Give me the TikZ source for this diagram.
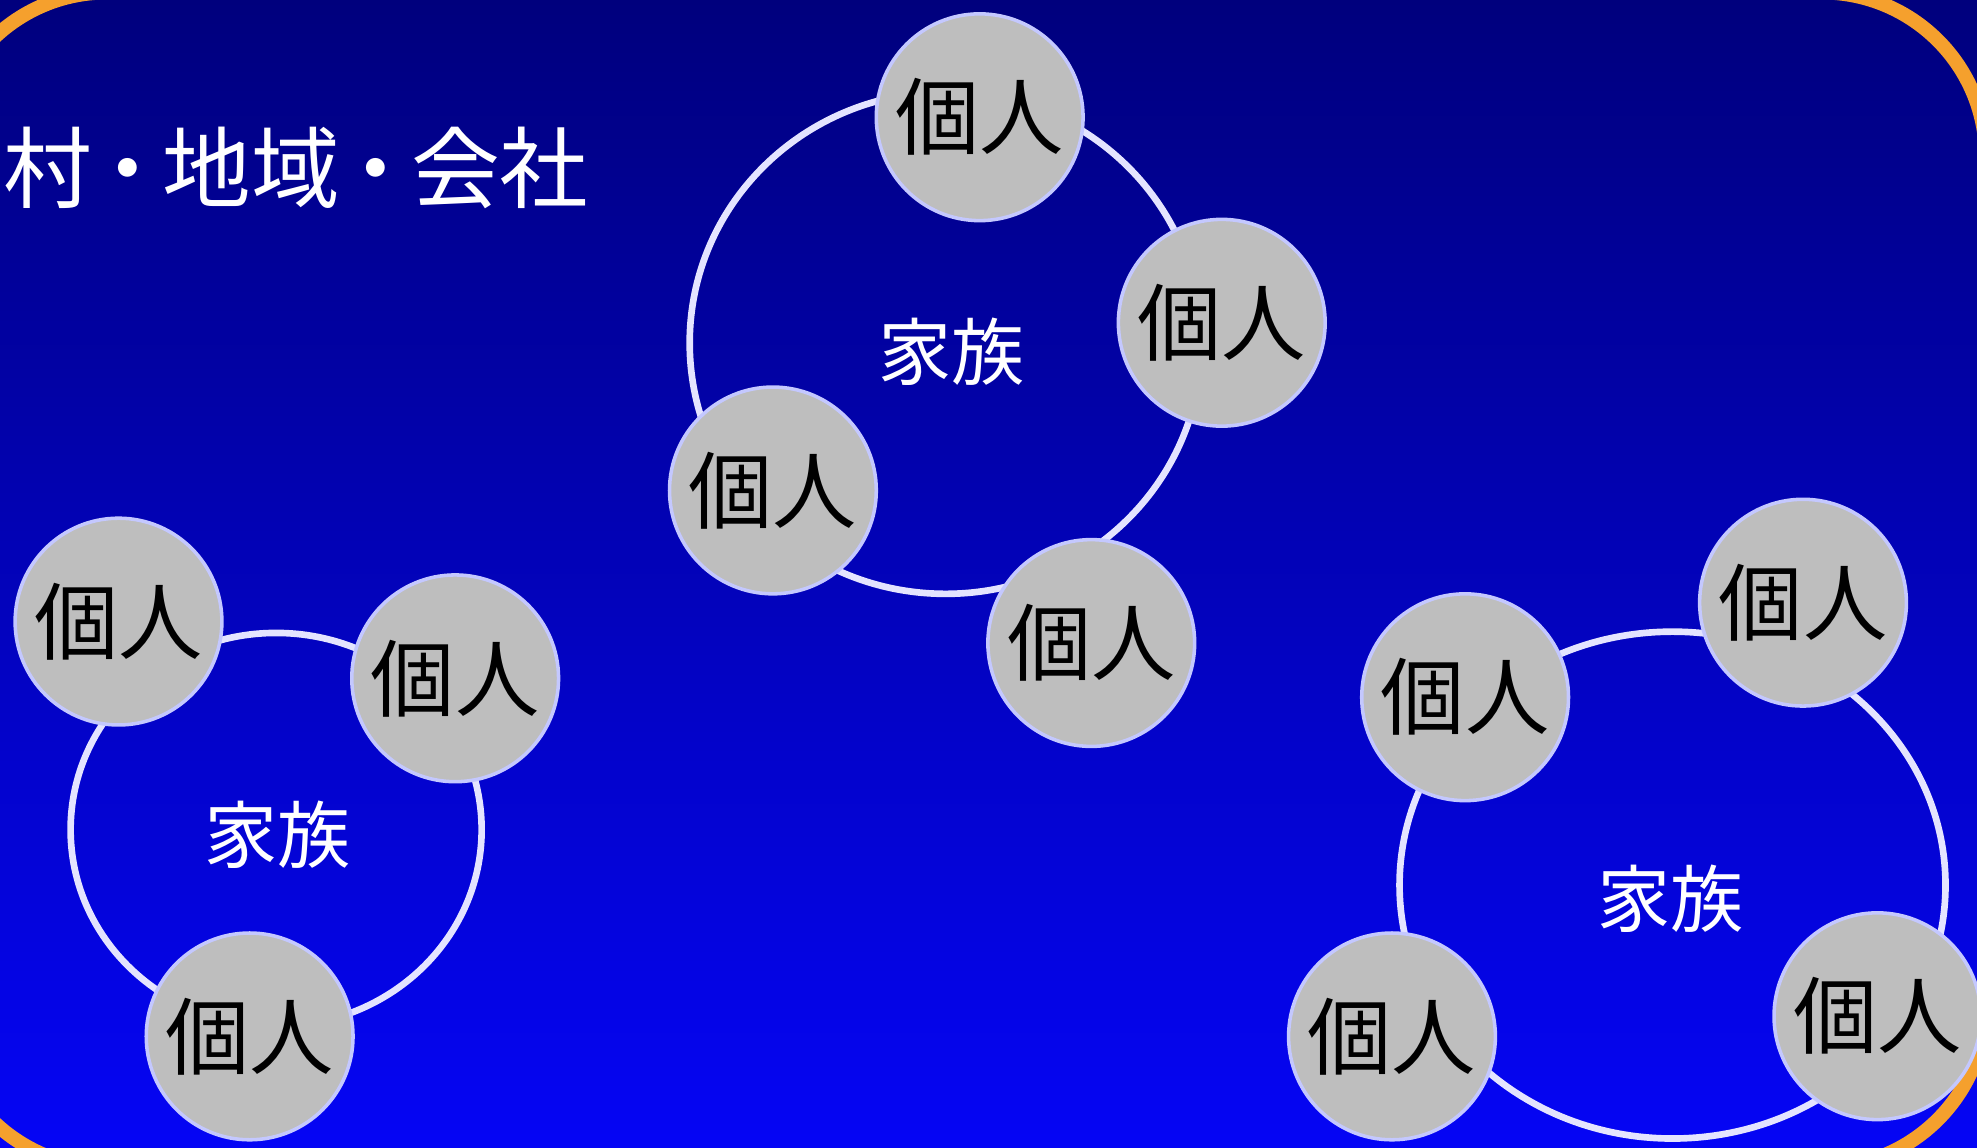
\documentclass[tikz,border=0pt]{standalone}
\usepackage{fontspec}
\newfontfamily\jpfont{Noto Sans CJK JP}
\definecolor{nodegray}{RGB}{190,190,190}
\definecolor{nodeedge}{RGB}{196,200,255}
\definecolor{ringline}{RGB}{228,228,255}
\definecolor{framecol}{RGB}{245,160,45}
\definecolor{bgtop}{RGB}{0,0,125}
\definecolor{bgbottom}{RGB}{5,5,245}
\tikzset{
  person/.style={circle, fill=nodegray, draw=nodeedge, line width=0.8pt,
    minimum size=1.64cm, inner sep=0pt, text=black,
    font=\jpfont\fontsize{19}{19}\selectfont},
  famring/.style={draw=ringline, line width=1.5pt},
  famlabel/.style={text=white, font=\jpfont\fontsize{16.5}{16.5}\selectfont},
}
\begin{document}
\begin{tikzpicture}
      \useasboundingbox (0,0) rectangle (15.68,9.10);
      \clip (0,0) rectangle (15.68,9.10);
      \shade[top color=bgtop, bottom color=bgbottom] (0,0) rectangle (15.68,9.10);
      \draw[framecol, line width=3.2pt, rounded corners=1.3cm]
        (-0.45,-0.16) rectangle (15.75,9.16);
      \node[anchor=west, inner sep=0pt, text=white,
        font=\jpfont\fontsize{20}{20}\selectfont] (title) at (0.02,7.77)
        {村\kern-.1em・\kern-.1em地域\kern-.1em・\kern-.1em会社};
      \begin{scope}[famring]
        \draw (7.50,6.38) ellipse [x radius=2.03, y radius=1.99];
        \draw (2.19,2.52) ellipse [x radius=1.63, y radius=1.56];
        \draw (13.265,2.08) ellipse [x radius=2.165, y radius=2.01];
      \end{scope}
      \draw
        (7.77,8.17) node[person] (0){個人}
        (9.69,6.54) node[person] (1){個人}
        (6.13,5.21) node[person] (2){個人}
        (8.655,4.00) node[person] (3){個人}
        (0.94,4.17) node[person] (4){個人}
        (3.61,3.72) node[person] (5){個人}
        (1.98,0.88) node[person] (6){個人}
        (14.30,4.32) node[person] (7){個人}
        (11.62,3.57) node[person] (8){個人}
        (11.04,0.88) node[person] (9){個人}
        (14.89,1.04) node[person] (10){個人};
      \draw
        (7.55,6.31) node[famlabel] (f0){家族}
        (2.20,2.48) node[famlabel] (f1){家族}
        (13.25,1.97) node[famlabel] (f2){家族};
    \end{tikzpicture}
\end{document}
